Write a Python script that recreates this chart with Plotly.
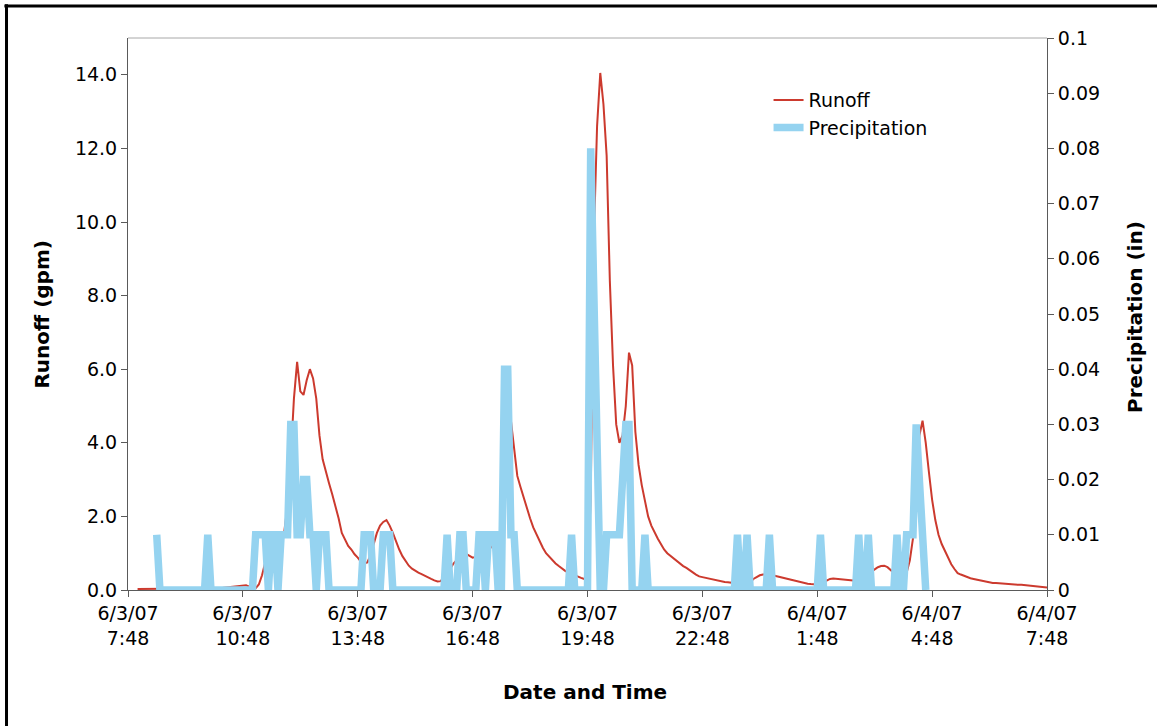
import pandas as pd
import plotly.graph_objects as go

# Observation window and sampling
WINDOW_START = "2007-06-03 07:48"
WINDOW_END = "2007-06-04 07:48"
SAMPLE_FREQ = "5min"
RUNOFF_FIRST = "2007-06-03 08:03"
PRECIP_FIRST = "2007-06-03 08:33"

# Runoff (gpm), one value every 5 minutes from RUNOFF_FIRST
runoff_gpm = [
    0.03, 0.03, 0.03, 0.03, 0.03, 0.03, 0.03, 0.03, 0.03, 0.03, 0.04, 0.04, 0.04,
    0.04, 0.04, 0.04, 0.04, 0.04, 0.04, 0.04, 0.04, 0.04, 0.05, 0.05, 0.05, 0.05, 0.05, 0.06, 0.07,
    0.09, 0.11, 0.12, 0.13, 0.12, 0.13, 0.09, 0.05,
    0.05, 0.15, 0.40, 0.75, 1.10, 1.25, 1.36, 1.30, 1.35, 1.60, 2.30, 3.60, 5.20, 6.20, 5.40, 5.30,
    5.70, 6.00, 5.75,
    5.20, 4.20, 3.55, 3.20, 2.90, 2.60, 2.30, 1.95, 1.55, 1.35, 1.20, 1.10, 0.97, 0.88, 0.77, 0.72,
    0.75, 0.95, 1.25, 1.55, 1.75, 1.85, 1.90, 1.75, 1.55, 1.30, 1.10, 0.92, 0.78, 0.66, 0.58, 0.52,
    0.47, 0.43, 0.38,
    0.33, 0.30, 0.26, 0.23, 0.24, 0.35, 0.47, 0.58, 0.72, 0.82, 0.90, 1.00, 0.98, 0.92, 0.88, 0.90,
    0.92, 0.95, 1.00, 1.08, 1.18, 1.23, 1.30, 1.50, 3.80, 5.75,
    4.60, 3.85, 3.10, 2.80, 2.50, 2.20, 1.95, 1.70, 1.50, 1.30, 1.15, 1.00, 0.90, 0.80, 0.72, 0.65,
    0.58, 0.52, 0.47, 0.43, 0.40, 0.36, 0.33, 0.30, 0.27,
    2.50, 9.60, 12.60, 14.05, 13.20, 11.80, 8.40, 6.10, 4.50, 4.00, 4.20, 5.00, 6.45, 6.10, 4.30,
    3.40, 2.85, 2.45, 2.00, 1.75, 1.55, 1.40, 1.25, 1.10, 1.00, 0.93, 0.85, 0.78, 0.72, 0.65, 0.60,
    0.55, 0.48, 0.42, 0.37, 0.35, 0.33, 0.31, 0.29, 0.27, 0.25, 0.24, 0.22, 0.21, 0.20, 0.18, 0.16,
    0.15, 0.14, 0.14,
    0.20, 0.30, 0.35, 0.40, 0.42, 0.43, 0.42, 0.40, 0.38, 0.36, 0.34, 0.31, 0.28, 0.26, 0.24, 0.22,
    0.20, 0.19, 0.17, 0.16, 0.15, 0.15, 0.17, 0.22, 0.27, 0.30, 0.31, 0.30, 0.30, 0.28, 0.26, 0.25,
    0.24, 0.25, 0.28, 0.32, 0.36, 0.42, 0.50, 0.57, 0.62, 0.65, 0.66, 0.62, 0.55, 0.46, 0.39, 0.40,
    0.43, 0.47,
    0.80, 1.40, 2.70, 4.20, 4.60, 4.00, 3.20, 2.45, 1.90, 1.50, 1.25, 1.05, 0.85, 0.70, 0.57, 0.46,
    0.42, 0.38, 0.34, 0.32, 0.30, 0.28, 0.26, 0.24, 0.22, 0.20, 0.19, 0.19, 0.18, 0.17, 0.16, 0.16,
    0.15, 0.15, 0.14, 0.14, 0.13, 0.13, 0.12, 0.11, 0.10, 0.09, 0.08, 0.07,
]

# Precipitation (in) per 5-minute interval, from PRECIP_FIRST
precip_in = [
    0.01,
    0, 0, 0, 0, 0, 0, 0, 0, 0, 0,
    0, 0, 0, 0, 0, 0.01, 0, 0, 0, 0,
    0, 0, 0, 0, 0, 0, 0, 0, 0, 0,
    0.01, 0.01, 0.01, 0.01, 0, 0.01, 0.01, 0, 0.01, 0.01,
    0.01, 0.03, 0.03, 0.01, 0.01, 0.02, 0.02, 0.01, 0.01, 0,
    0.01, 0.01, 0.01, 0, 0, 0, 0, 0, 0, 0,
    0, 0, 0, 0, 0.01, 0.01, 0.01, 0, 0, 0,
    0.01, 0.01, 0.01, 0, 0, 0, 0, 0, 0, 0,
    0, 0, 0, 0, 0, 0, 0, 0, 0, 0,
    0.01, 0, 0, 0, 0.01, 0.01, 0, 0, 0, 0,
    0.01, 0.01, 0, 0.01, 0.01, 0.01, 0, 0, 0.04, 0.04,
    0.01, 0.01, 0, 0, 0, 0, 0, 0, 0, 0,
    0, 0, 0, 0, 0, 0, 0, 0, 0, 0.01,
    0, 0, 0, 0, 0, 0.08, 0.05, 0.03, 0, 0,
    0.01, 0.01, 0.01, 0.01, 0.01, 0.02, 0.03, 0.03, 0, 0,
    0, 0, 0.01, 0, 0, 0, 0, 0, 0, 0,
    0, 0, 0, 0, 0, 0, 0, 0, 0, 0,
    0, 0, 0, 0, 0, 0, 0, 0, 0, 0,
    0, 0.01, 0, 0, 0.01, 0, 0, 0, 0, 0,
    0, 0.01, 0, 0, 0, 0, 0, 0, 0, 0,
    0, 0, 0, 0, 0, 0, 0, 0.01, 0, 0,
    0, 0, 0, 0, 0, 0, 0, 0, 0, 0.01,
    0, 0, 0.01, 0, 0, 0, 0, 0, 0, 0,
    0, 0.01, 0, 0, 0.01, 0.01, 0.01, 0.03, 0.02, 0.01,
    0,
]

# Axis ticks
x_tick_times = pd.date_range(WINDOW_START, WINDOW_END, freq="3h")
x_tick_text = [f"{t.month}/{t.day}/{t:%y}<br>{t.hour}:{t:%M}" for t in x_tick_times]
runoff_ticks = [0, 2, 4, 6, 8, 10, 12, 14]

runoff_time = pd.date_range(RUNOFF_FIRST, periods=len(runoff_gpm), freq=SAMPLE_FREQ)
precip_time = pd.date_range(PRECIP_FIRST, periods=len(precip_in), freq=SAMPLE_FREQ)

FONT = "DejaVu Sans, Verdana, sans-serif"
AXIS_GREY = "#5a5a5a"
RED = "#cc3a2e"
SKY = "#95d3f0"

fig = go.Figure()
fig.add_trace(go.Scatter(
    x=precip_time, y=precip_in, name="Precipitation", yaxis="y2",
    mode="lines", line=dict(color=SKY, width=7.5), legendrank=2,
))
fig.add_trace(go.Scatter(
    x=runoff_time, y=runoff_gpm, name="Runoff", yaxis="y",
    mode="lines", line=dict(color=RED, width=2), legendrank=1,
))

tick_font = dict(family=FONT, size=19, color="#000")

fig.update_layout(
    width=1157, height=726, autosize=False,
    margin=dict(l=128, r=110, t=38, b=136),
    paper_bgcolor="white", plot_bgcolor="white",
    font=dict(family=FONT, size=19, color="#000"),
    showlegend=True,
    legend=dict(x=0.697, y=0.922, xanchor="left", yanchor="top",
                bgcolor="rgba(0,0,0,0)", font=dict(family=FONT, size=19),
                tracegroupgap=0, itemwidth=30),
    xaxis=dict(
        type="date", range=[WINDOW_START, WINDOW_END],
        tickmode="array", tickvals=x_tick_times, ticktext=x_tick_text,
        ticks="outside", ticklen=6, tickcolor=AXIS_GREY, tickwidth=1,
        showline=True, linecolor=AXIS_GREY, linewidth=1,
        showgrid=False, zeroline=False, tickfont=tick_font,
    ),
    yaxis=dict(
        range=[0, 15], tickmode="array", tickvals=runoff_ticks,
        ticktext=[f"{v:.1f}" for v in runoff_ticks],
        ticks="outside", ticklen=6, tickcolor=AXIS_GREY,
        showline=True, linecolor=AXIS_GREY, linewidth=1,
        showgrid=False, zeroline=False, tickfont=tick_font,
    ),
    yaxis2=dict(
        overlaying="y", side="right", anchor="x",
        range=[0, 0.1], tick0=0, dtick=0.01,
        ticks="outside", ticklen=6, tickcolor=AXIS_GREY,
        showline=True, linecolor=AXIS_GREY, linewidth=1,
        showgrid=False, zeroline=False, tickfont=tick_font,
    ),
    yaxis3=dict(
        overlaying="y", side="right", anchor="x",
        range=[0, 0.1], tick0=0, dtick=0.01,
        ticks="inside", ticklen=6, tickcolor=AXIS_GREY,
        showticklabels=False, showline=False,
        showgrid=False, zeroline=False,
    ),
)

# Axis titles
title_font = dict(family=FONT, size=20, color="#000", weight="bold")
fig.add_annotation(text="<b>Date and Time</b>", xref="paper", yref="paper",
                   x=0.497, y=-0.185, showarrow=False, font=title_font,
                   xanchor="center", yanchor="middle")
fig.add_annotation(text="<b>Runoff (gpm)</b>", xref="paper", yref="paper",
                   x=-0.094, y=0.50, showarrow=False, font=title_font,
                   textangle=-90, xanchor="center", yanchor="middle")
fig.add_annotation(text="<b>Precipitation (in)</b>", xref="paper", yref="paper",
                   x=1.096, y=0.495, showarrow=False, font=title_font,
                   textangle=-90, xanchor="center", yanchor="middle")

# Plot-area top edge and the outer frame
fig.add_shape(type="line", xref="paper", yref="paper", x0=0, x1=1, y0=1, y1=1,
              line=dict(color="#a8a8a8", width=1))
fig.add_shape(type="line", xref="paper", yref="paper", x0=-0.1322, x1=-0.1322,
              y0=-0.25, y1=1.061, line=dict(color="#000", width=3))
fig.add_shape(type="line", xref="paper", yref="paper", x0=-0.1345, x1=1.12,
              y0=1.058, y1=1.058, line=dict(color="#000", width=3))

fig.write_html("out.html")
